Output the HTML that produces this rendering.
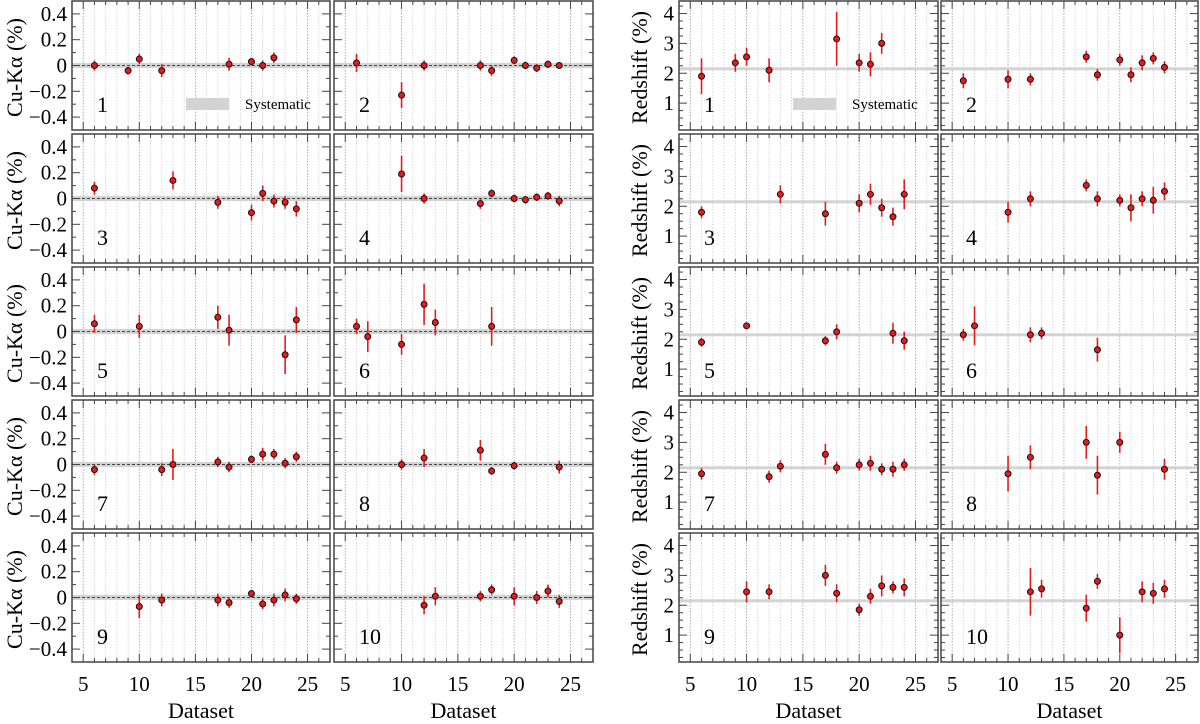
<!DOCTYPE html>
<html><head><meta charset="utf-8">
<style>
html,body{margin:0;padding:0;background:#fff;}
svg{display:block;font-family:"Liberation Serif","DejaVu Serif",serif;}
svg text{font-family:"Liberation Serif","DejaVu Serif",serif;}
</style></head>
<body>
<svg id="chart" width="1200" height="724" viewBox="0 0 1200 724" xmlns="http://www.w3.org/2000/svg" font-family="Liberation Serif, serif"></svg>
<script>
// Data: [x, value, error]
const cuPanels = [
 [[6,0.0,0.04],[9,-0.04,0.03],[10,0.05,0.04],[12,-0.04,0.05],[18,0.01,0.05],[20,0.03,0.03],[21,0.0,0.04],[22,0.06,0.04]],
 [[6,0.02,0.07],[10,-0.23,0.1],[12,0.0,0.04],[17,0.0,0.04],[18,-0.04,0.04],[20,0.04,0.03],[21,0.0,0.03],[22,-0.02,0.03],[23,0.01,0.03],[24,0.0,0.02]],
 [[6,0.08,0.05],[13,0.14,0.07],[17,-0.03,0.05],[20,-0.11,0.06],[21,0.04,0.06],[22,-0.02,0.05],[23,-0.03,0.05],[24,-0.08,0.06]],
 [[10,0.19,0.14],[12,0.0,0.04],[17,-0.04,0.04],[18,0.04,0.03],[20,0.0,0.03],[21,-0.01,0.03],[22,0.01,0.03],[23,0.02,0.03],[24,-0.02,0.04]],
 [[6,0.06,0.07],[10,0.04,0.09],[17,0.11,0.09],[18,0.01,0.12],[23,-0.18,0.15],[24,0.09,0.1]],
 [[6,0.04,0.06],[7,-0.04,0.12],[10,-0.1,0.08],[12,0.21,0.16],[13,0.07,0.1],[18,0.04,0.15]],
 [[6,-0.04,0.04],[12,-0.04,0.05],[13,0.0,0.12],[17,0.02,0.04],[18,-0.02,0.04],[20,0.04,0.03],[21,0.08,0.05],[22,0.08,0.04],[23,0.01,0.04],[24,0.06,0.04]],
 [[10,0.0,0.04],[12,0.05,0.07],[17,0.11,0.08],[18,-0.05,0.03],[20,-0.01,0.03],[24,-0.02,0.05]],
 [[10,-0.07,0.09],[12,-0.02,0.05],[17,-0.02,0.05],[18,-0.04,0.04],[20,0.03,0.03],[21,-0.05,0.04],[22,-0.02,0.05],[23,0.02,0.05],[24,-0.01,0.04]],
 [[12,-0.06,0.07],[13,0.01,0.07],[17,0.01,0.04],[18,0.06,0.04],[20,0.01,0.07],[22,0.0,0.05],[23,0.05,0.05],[24,-0.03,0.05]]
];
const zPanels = [
 [[6,1.9,0.6],[9,2.35,0.3],[10,2.55,0.3],[12,2.1,0.4],[18,3.15,0.9],[20,2.35,0.3],[21,2.3,0.4],[22,3.0,0.35]],
 [[6,1.75,0.25],[10,1.8,0.3],[12,1.8,0.2],[17,2.55,0.2],[18,1.95,0.2],[20,2.45,0.2],[21,1.95,0.25],[22,2.35,0.25],[23,2.5,0.2],[24,2.2,0.2]],
 [[6,1.8,0.2],[13,2.4,0.3],[17,1.75,0.4],[20,2.1,0.3],[21,2.4,0.35],[22,1.95,0.3],[23,1.65,0.3],[24,2.4,0.5]],
 [[10,1.8,0.35],[12,2.25,0.25],[17,2.7,0.2],[18,2.25,0.25],[20,2.2,0.2],[21,1.95,0.45],[22,2.25,0.25],[23,2.2,0.45],[24,2.5,0.3]],
 [[6,1.9,0.15],[10,2.45,0.1],[17,1.95,0.15],[18,2.25,0.25],[23,2.2,0.35],[24,1.95,0.3]],
 [[6,2.15,0.2],[7,2.45,0.65],[12,2.15,0.25],[13,2.2,0.2],[18,1.65,0.4]],
 [[6,1.95,0.2],[12,1.85,0.2],[13,2.2,0.2],[17,2.6,0.35],[18,2.15,0.2],[20,2.25,0.2],[21,2.3,0.25],[22,2.1,0.2],[23,2.1,0.25],[24,2.25,0.2]],
 [[10,1.95,0.6],[12,2.5,0.4],[17,3.0,0.55],[18,1.9,0.65],[20,3.0,0.35],[24,2.1,0.35]],
 [[10,2.45,0.35],[12,2.45,0.25],[17,3.0,0.35],[18,2.4,0.3],[20,1.85,0.2],[21,2.3,0.25],[22,2.65,0.35],[23,2.6,0.2],[24,2.6,0.3]],
 [[12,2.45,0.8],[13,2.55,0.3],[17,1.9,0.45],[18,2.8,0.25],[20,1.0,0.6],[22,2.45,0.35],[23,2.4,0.35],[24,2.55,0.3]]
];
const xTicks = [5,10,15,20,25];
const cuTicks = [0.4,0.2,0,-0.2,-0.4];
const cuTickLabels = ["0.4","0.2","0","\u22120.2","\u22120.4"];
const zTicks = [4,3,2,1];
const zTickLabels = ["4","3","2","1"];
const cuSys = [0, 0.02];
const zSys = [2.15, 0.05];

const NS="http://www.w3.org/2000/svg";
const svg=document.getElementById('chart');
const FF='Liberation Serif, DejaVu Serif, serif';
function el(tag,attrs,parent,txt){const e=document.createElementNS(NS,tag);for(const k in attrs)e.setAttribute(k,attrs[k]);if(tag==='text')e.setAttribute('font-family',FF);if(txt!==undefined)e.textContent=txt;(parent||svg).appendChild(e);return e;}

const rowsTop=[1,134,267,400,533], PH=129;
const blocks=[
 {cols:[[72,330],[334,593]], ymin:-0.5, ymax:0.5, minor:0.1, ticks:cuTicks, labels:cuTickLabels, data:cuPanels, sys:cuSys, dashed:true, ylabel:"Cu-K\u03b1 (%)", ylx:22, name:"cu-ka"},
 {cols:[[679,938],[941,1198]], ymin:0.1, ymax:4.42, minor:0.25, ticks:zTicks, labels:zTickLabels, data:zPanels, sys:zSys, dashed:false, ylabel:"Redshift (%)", ylx:647, name:"redshift"}
];
const XMIN=4, XMAX=27;

blocks.forEach(b=>{
 for(let r=0;r<5;r++){
  const top=rowsTop[r], bot=top+PH;
  const ys=v=>top+(b.ymax-v)/(b.ymax-b.ymin)*PH;
  const yl=el('text',{x:b.ylx,y:top+PH/2+2,'font-size':22,'text-anchor':'middle',transform:`rotate(-90 ${b.ylx} ${top+PH/2+2})`},svg,b.ylabel);
  
  
  for(let c=0;c<2;c++){
   const idx=r*2+c, [L,R]=b.cols[c];
   const xs=x=>L+(x-XMIN)/(XMAX-XMIN)*(R-L);
   const g=el('g',{});
   
   
   for(let x=5;x<=26;x++){
     el('line',{x1:xs(x),x2:xs(x),y1:top,y2:bot,stroke:x%5===0?'#999':'#ccc','stroke-width':0.8,'stroke-dasharray':'1.5,1.5'},g);
   }
   const band=el('rect',{x:L,width:R-L,y:ys(b.sys[0]+b.sys[1]),height:Math.max(2,ys(b.sys[0]-b.sys[1])-ys(b.sys[0]+b.sys[1])),fill:'#d3d3d3'},g);
   
   
   if(b.dashed) el('line',{x1:L,x2:R,y1:ys(0),y2:ys(0),stroke:'#444','stroke-width':1,'stroke-dasharray':'3,2'},g);
   for(let x=5;x<=26;x++){
     const len=x%5===0?8:4;
     el('line',{x1:xs(x),x2:xs(x),y1:bot,y2:bot-len,stroke:'#444','stroke-width':1},g);
     el('line',{x1:xs(x),x2:xs(x),y1:top,y2:top+len,stroke:'#444','stroke-width':1},g);
   }
   for(let k=Math.ceil(b.ymin/b.minor-1e-6);k*b.minor<=b.ymax+1e-6;k++){
     const v=k*b.minor, y=ys(v);
     const major=b.ticks.some(t=>Math.abs(t-v)<1e-6);
     const len=major?8:4;
     el('line',{x1:L,x2:L+len,y1:y,y2:y,stroke:'#444','stroke-width':1},g);
     el('line',{x1:R,x2:R-len,y1:y,y2:y,stroke:'#444','stroke-width':1},g);
   }
   el('rect',{x:L,y:top,width:R-L,height:PH,fill:'none',stroke:'#444','stroke-width':1.5},g);
   if(c===0){
     b.ticks.forEach((t,i)=>{
       const tl=el('text',{x:L-5,y:ys(t)+7,'font-size':21,'text-anchor':'end'},svg,b.labels[i]);
       
       
     });
   }
   if(r===4){
     xTicks.forEach(t=>{
       const tl=el('text',{x:xs(t),y:bot+29,'font-size':21,'text-anchor':'middle'},svg,String(t));
       
       
     });
     const xt=el('text',{x:(L+R)/2,y:bot+56,'font-size':22,'text-anchor':'middle'},svg,'Dataset');
     
     
   }
   const pn=el('text',{x:L+25,y:bot-18,'font-size':22},g,String(idx+1));
   
   
   if(idx===0){
     const lr=el('rect',{x:L+114,y:top+97,width:43,height:12,fill:'#d3d3d3'},g);
     
     
     const lt=el('text',{x:L+173,y:top+108,'font-size':15},g,'Systematic');
     
     
   }
   b.data[idx].forEach(p=>{
     const x=xs(p[0]);
     const eb=el('line',{x1:x,x2:x,y1:ys(p[1]+p[2]),y2:ys(p[1]-p[2]),stroke:'#e8191b','stroke-width':1.6},g);
     
     
     const pt=el('circle',{cx:x,cy:ys(p[1]),r:3,fill:'#e8191b',stroke:'#111','stroke-width':1},g);
     
     
   });
  }
 }
});
</script>
</body></html>
